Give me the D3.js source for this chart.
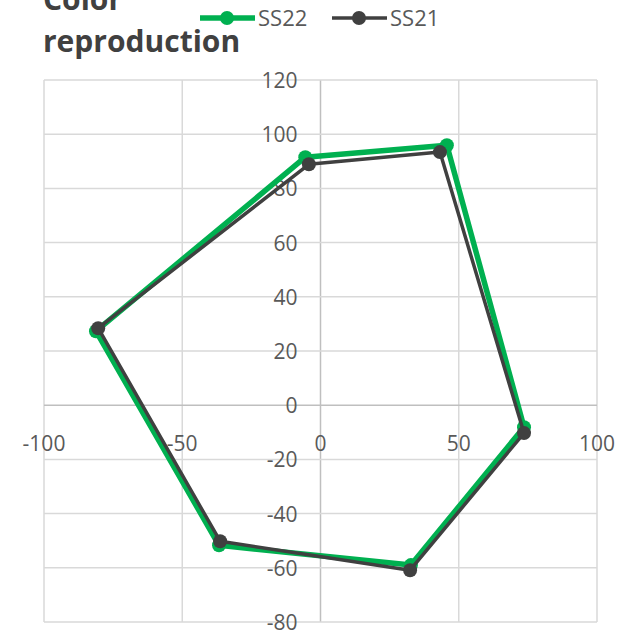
<!DOCTYPE html>
<head>
  <meta charset="UTF-8">
  <title>Color reproduction</title>
  <script src="https://d3js.org/d3.v7.min.js"></script>
  <style>
    body { margin: 0; background: #fff; }
    text { font-family: "Open Sans", "Noto Sans", sans-serif; }
  </style>
</head>
<body>
<svg id="chart"></svg>
<script>
// data
const seriesNames = ["SS22", "SS21"];
const seriesColors = ["#00b050", "#404040"];
const ss22x = [-5.5, 45.7, 73.6, 32.7, -36.7, -81.2, -5.5];
const ss22y = [91.5, 95.9, -8.1, -59.0, -51.7, 27.3, 91.5];
const ss21x = [-4.2, 43.2, 73.6, 32.4, -36.3, -80.4, -4.2];
const ss21y = [88.9, 93.4, -10.3, -60.9, -50.2, 28.4, 88.9];
const xTicks = [-100, -50, 0, 50, 100];
const yTicks = [-80, -60, -40, -20, 0, 20, 40, 60, 80, 100, 120];

const width = 636, height = 631;
const svg = d3.select("#chart").attr("width", width).attr("height", height);

const x = d3.scaleLinear().domain([-100, 100]).range([44, 597]);
const y = d3.scaleLinear().domain([-80, 120]).range([622, 80]);

// grid
svg.append("g").selectAll("line.v").data(xTicks).enter().append("line")
  .attr("x1", d => x(d)).attr("x2", d => x(d))
  .attr("y1", y(120)).attr("y2", y(-80))
  .attr("stroke", d => d === 0 ? "#bfbfbf" : "#d9d9d9").attr("stroke-width", 1.5);
svg.append("g").selectAll("line.h").data(yTicks).enter().append("line")
  .attr("x1", x(-100)).attr("x2", x(100))
  .attr("y1", d => y(d)).attr("y2", d => y(d))
  .attr("stroke", d => d === 0 ? "#bfbfbf" : "#d9d9d9").attr("stroke-width", 1.5);

// axis labels
svg.append("g").selectAll("text").data(yTicks).enter().append("text")
  .attr("x", x(0) - 23).attr("y", d => y(d) + 8)
  .attr("text-anchor", "end").attr("font-size", 21).attr("fill", "#595959")
  .text(d => d);
svg.append("g").selectAll("text").data(xTicks).enter().append("text")
  .attr("x", d => x(d)).attr("y", y(0) + 46)
  .attr("text-anchor", "middle").attr("font-size", 21).attr("fill", "#595959")
  .text(d => d);

// series
const series = [
  { name: seriesNames[0], color: seriesColors[0], xs: ss22x, ys: ss22y, w: 5.5, r: 7 },
  { name: seriesNames[1], color: seriesColors[1], xs: ss21x, ys: ss21y, w: 3.5, r: 7 }
];
const line = d3.line().x(d => x(d[0])).y(d => y(d[1]));

series.forEach(s => {
  const pts = s.xs.map((v, i) => [v, s.ys[i]]);
  const g = svg.append("g");
  g.append("path").datum(pts).attr("d", line)
    .attr("fill", "none").attr("stroke", s.color)
    .attr("stroke-width", s.w).attr("stroke-linejoin", "round");
  g.selectAll("circle").data(pts.slice(0, -1)).enter().append("circle")
    .attr("cx", d => x(d[0])).attr("cy", d => y(d[1]))
    .attr("r", s.r).attr("fill", s.color);
});

// title
svg.append("text").attr("x", 43).attr("y", 10)
  .attr("font-size", 30).attr("font-weight", "bold").attr("fill", "#404040")
  .text("Color");
svg.append("text").attr("x", 43).attr("y", 52)
  .attr("font-size", 30).attr("font-weight", "bold").attr("fill", "#404040")
  .text("reproduction");

// legend
const legX = [200, 332];
series.forEach((s, i) => {
  const g = svg.append("g").attr("transform", `translate(${legX[i]},18)`);
  g.append("line").attr("x1", 0).attr("x2", 55).attr("y1", 0).attr("y2", 0)
    .attr("stroke", s.color).attr("stroke-width", s.w);
  g.append("circle").attr("cx", 27).attr("cy", 0).attr("r", s.r).attr("fill", s.color);
  g.append("text").attr("x", 58).attr("y", 8).attr("font-size", 22).attr("fill", "#595959")
    .text(s.name);
});
</script>
</body>
